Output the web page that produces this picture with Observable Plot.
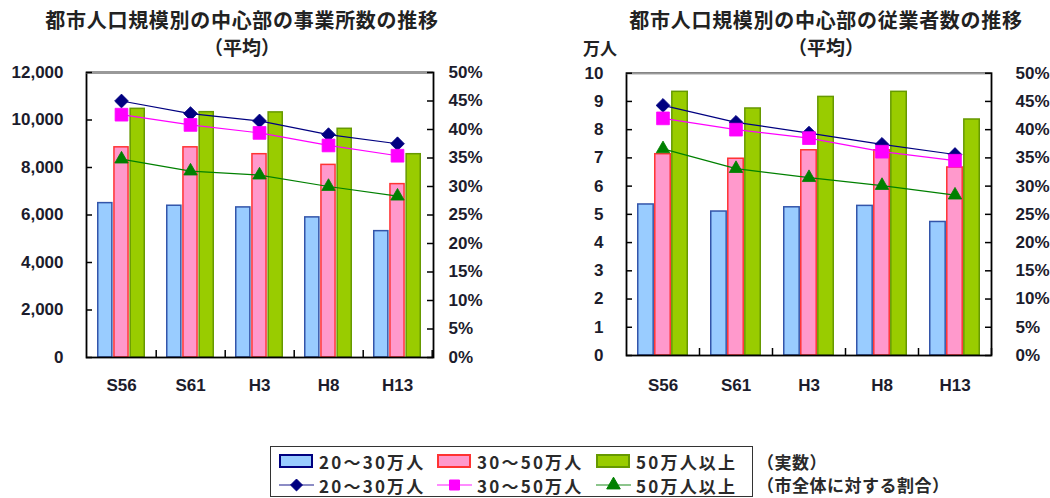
<!DOCTYPE html>
<html><head><meta charset="utf-8">
<script src="https://cdn.jsdelivr.net/npm/d3@7"></script>
<script src="https://cdn.jsdelivr.net/npm/@observablehq/plot@0.6"></script>
<style>
body{margin:0;background:#fff;}
#root{position:relative;width:1050px;height:498px;overflow:hidden;font-family:"Noto Sans CJK JP",sans-serif;color:#222;}
.t{position:absolute;white-space:nowrap;font-weight:bold;transform:translate(-50%,-50%);line-height:1;}
.chart{position:absolute;top:60px;}
#legend{position:absolute;left:270px;top:446px;width:481px;height:49px;border:1px solid #333;box-sizing:content-box;}
.lt{position:absolute;white-space:nowrap;font-size:17px;line-height:1;transform:translateY(-50%);letter-spacing:2.2px;font-weight:bold;color:#2a2a2a;}
</style></head>
<body><div id="root"></div>
<script>
const categories = ["S56", "S61", "H3", "H8", "H13"];
const seriesNames = ["20～30万人", "30～50万人", "50万人以上"];

// 事業所数 (実数)
const estCount20 = [6500, 6390, 6320, 5900, 5320];
const estCount30 = [8850, 8850, 8560, 8110, 7300];
const estCount50 = [10470, 10330, 10320, 9630, 8560];
// 事業所数 (市全体に対する割合, %)
const estShare20 = [45.0, 42.8, 41.5, 39.1, 37.5];
const estShare30 = [42.6, 40.8, 39.4, 37.2, 35.4];
const estShare50 = [34.8, 32.7, 32.0, 30.0, 28.3];

// 従業者数 (実数, 万人)
const empCount20 = [5.35, 5.10, 5.25, 5.30, 4.73];
const empCount30 = [7.13, 6.97, 7.27, 7.27, 6.66];
const empCount50 = [9.34, 8.75, 9.16, 9.34, 8.36];
// 従業者数 (市全体に対する割合, %)
const empShare20 = [44.3, 41.3, 39.4, 37.4, 35.6];
const empShare30 = [42.0, 40.0, 38.5, 36.1, 34.5];
const empShare50 = [36.6, 33.1, 31.5, 30.1, 28.4];

const estTicks = [0, 2000, 4000, 6000, 8000, 10000, 12000];
const empTicks = [0, 1, 2, 3, 4, 5, 6, 7, 8, 9, 10];
const pctTicks = [0, 5, 10, 15, 20, 25, 30, 35, 40, 45, 50];

const barFill = ["#99ccff", "#ff99cc", "#99cc00"];
const barStroke = ["#3355aa", "#ff3333", "#669900"];
const lineColor = ["#000080", "#ff00ff", "#008000"];
const symbols = ["diamond2", "square", "triangle"];
const symR = [6.2, 7.2, 5.0];

const root = document.getElementById("root");

function chart({counts, shares, yMax, yTicks, yFmt, W, H, ml, mr, mt, mb, padL, padR, padX}) {
  const pw = W - ml - mr, ph = H - mt - mb;
  const pad = 0.3;
  const step = pw / categories.length, bw = step * (1 - pad), third = bw / 3;
  const k = yMax / 50;
  const barMarks = counts.map((arr, s) =>
    Plot.barY(arr.map((v, i) => ({cat: categories[i], v})), {
      x: "cat", y: "v", fill: barFill[s], stroke: barStroke[s], strokeWidth: 1.5,
      insetLeft: s * third + 0.75, insetRight: (2 - s) * third + 0.75
    }));
  const lineMarks = shares.flatMap((arr, s) => {
    const d = arr.map((p, i) => ({cat: categories[i], y: p * k}));
    return [
      Plot.line(d, {x: "cat", y: "y", stroke: lineColor[s], strokeWidth: 1.2}),
      Plot.dot(d, {x: "cat", y: "y", symbol: symbols[s], r: symR[s], fill: lineColor[s], stroke: lineColor[s], strokeWidth: 0.8})
    ];
  });
  return Plot.plot({
    width: W, height: H,
    marginLeft: ml, marginRight: mr, marginTop: mt, marginBottom: mb,
    style: {font: "bold 17px 'Liberation Sans', sans-serif", color: "#1c1c2c", background: "transparent"},
    x: {type: "band", domain: categories, paddingInner: pad, paddingOuter: pad / 2, label: null},
    y: {domain: [0, yMax], label: null},
    marks: [
      ...barMarks,
      Plot.frame({stroke: "#000", strokeWidth: 1.8}),
      Plot.ruleY([yMax], {stroke: "#999", strokeWidth: 2}),
      Plot.ruleY(yTicks, {insetRight: pw - 6, stroke: "#000", strokeWidth: 1.5}),
      Plot.ruleY(pctTicks.map(p => p * k), {insetLeft: pw - 6, stroke: "#000", strokeWidth: 1.5}),
      Plot.ruleX(categories, {dx: step / 2, insetTop: ph - 7, stroke: "#000", strokeWidth: 1.5}),
      ...lineMarks,
      Plot.axisY(yTicks, {anchor: "left", tickSize: 0, tickPadding: padL, tickFormat: yFmt, label: null}),
      Plot.axisY(pctTicks.map(p => p * k), {anchor: "right", tickSize: 0, tickPadding: padR, tickFormat: d => Math.round(d / k) + "%", label: null}),
      Plot.axisX({anchor: "bottom", tickSize: 0, tickPadding: padX, label: null})
    ]
  });
}

const left = chart({
  counts: [estCount20, estCount30, estCount50],
  shares: [estShare20, estShare30, estShare50],
  yMax: 12000, yTicks: estTicks, yFmt: d3.format(","),
  W: 525, H: 345, ml: 86, mr: 92, mt: 12, mb: 48, padL: 23, padR: 15, padX: 21
});
left.classList.add("chart");
left.style.left = "0px";
root.appendChild(left);

const right = chart({
  counts: [empCount20, empCount30, empCount50],
  shares: [empShare20, empShare30, empShare50],
  yMax: 10, yTicks: empTicks, yFmt: d => String(d),
  W: 525, H: 345, ml: 101, mr: 59, mt: 12.7, mb: 50, padL: 23, padR: 24, padX: 23
});
right.classList.add("chart");
right.style.left = "525px";
root.appendChild(right);

function addText(txt, x, y, size, extra = "") {
  const el = document.createElement("div");
  el.className = "t";
  el.textContent = txt;
  el.style.cssText = `left:${x}px;top:${y}px;font-size:${size}px;${extra}`;
  root.appendChild(el);
}
addText("都市人口規模別の中心部の事業所数の推移", 242, 20, 20, "letter-spacing:0.7px;");
addText("（平均）", 242, 46, 19);
addText("都市人口規模別の中心部の従業者数の推移", 826, 20, 20, "letter-spacing:0.7px;");
addText("（平均）", 826, 46, 19);
addText("万人", 600, 47, 17);

// legend
const legend = document.createElement("div");
legend.id = "legend";
root.appendChild(legend);
const ns = "http://www.w3.org/2000/svg";
const lsvg = document.createElementNS(ns, "svg");
lsvg.setAttribute("width", 481); lsvg.setAttribute("height", 49);
lsvg.style.position = "absolute"; lsvg.style.left = "0"; lsvg.style.top = "0";
legend.appendChild(lsvg);
const colX = [8, 166, 325];
const row1 = 14, row2 = 38;
seriesNames.forEach((name, s) => {
  const x0 = colX[s];
  const r = document.createElementNS(ns, "rect");
  r.setAttribute("x", x0 + 1); r.setAttribute("y", row1 - 6); r.setAttribute("width", 32); r.setAttribute("height", 12);
  r.setAttribute("fill", barFill[s]); r.setAttribute("stroke", barStroke[s] === "#3355aa" ? "#000080" : barStroke[s]); r.setAttribute("stroke-width", 2);
  lsvg.appendChild(r);
  const l = document.createElementNS(ns, "line");
  l.setAttribute("x1", x0); l.setAttribute("x2", x0 + 35); l.setAttribute("y1", row2); l.setAttribute("y2", row2);
  l.setAttribute("stroke", lineColor[s]); l.setAttribute("stroke-width", 1.5); l.setAttribute("opacity", 0.6);
  lsvg.appendChild(l);
  const p = document.createElementNS(ns, "path");
  const sym = [d3.symbolDiamond2, d3.symbolSquare, d3.symbolTriangle][s];
  const sz = [90, 100, 80][s];
  p.setAttribute("d", d3.symbol(sym, sz)());
  p.setAttribute("transform", `translate(${x0 + 17.5},${row2})`);
  p.setAttribute("fill", lineColor[s]); p.setAttribute("stroke", lineColor[s]);
  lsvg.appendChild(p);
  [row1, row2].forEach(ry => {
    const t = document.createElement("div");
    t.className = "lt";
    t.textContent = name;
    t.style.left = (x0 + 40) + "px";
    t.style.top = ry + "px";
    legend.appendChild(t);
  });
});
const n1 = document.createElement("div");
n1.className = "lt"; n1.textContent = "（実数）";
n1.style.cssText = "left:757px;top:461px;font-size:17px;letter-spacing:0.5px;";
root.appendChild(n1);
const n2 = document.createElement("div");
n2.className = "lt"; n2.textContent = "（市全体に対する割合）";
n2.style.cssText = "left:757px;top:484px;font-size:17px;letter-spacing:0.5px;";
root.appendChild(n2);
</script>
</body></html>
